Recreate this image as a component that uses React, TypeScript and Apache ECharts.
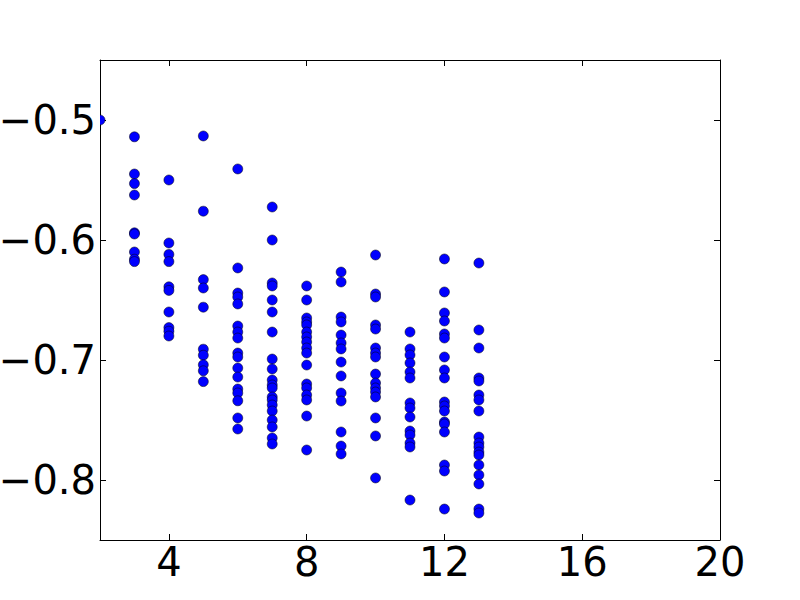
import React, { useEffect, useRef } from "react";
import * as echarts from "echarts";

// Values per x position
const y2 = [-0.5];
const y3 = [-0.514, -0.545, -0.553, -0.5625, -0.594, -0.595, -0.61, -0.616, -0.618];
const y4 = [-0.55, -0.6025, -0.612, -0.618, -0.639, -0.642, -0.66, -0.673, -0.676, -0.68];
const y5 = [-0.5133, -0.576, -0.633, -0.64, -0.656, -0.691, -0.696, -0.704, -0.709, -0.718];
const y6 = [-0.5408, -0.6233, -0.6442, -0.6475, -0.6533, -0.6717, -0.6767, -0.6817, -0.6942, -0.6975, -0.7067, -0.7142, -0.7242, -0.7275, -0.734, -0.7483, -0.7575];
const y7 = [-0.5725, -0.6, -0.6358, -0.6383, -0.65, -0.66, -0.6767, -0.6992, -0.7075, -0.7167, -0.7208, -0.7233, -0.7308, -0.7333, -0.7375, -0.7425, -0.75, -0.7558, -0.765, -0.77];
const y8 = [-0.6383, -0.65, -0.665, -0.6683, -0.6708, -0.6767, -0.6808, -0.685, -0.69, -0.6942, -0.7042, -0.72, -0.7233, -0.7292, -0.7333, -0.7467, -0.775];
const y9 = [-0.6267, -0.635, -0.6642, -0.6683, -0.6792, -0.6858, -0.6908, -0.7017, -0.7133, -0.7275, -0.7342, -0.76, -0.7717, -0.7783];
const y10 = [-0.6125, -0.645, -0.6475, -0.6708, -0.6742, -0.69, -0.6942, -0.6975, -0.7117, -0.7192, -0.7233, -0.7267, -0.7308, -0.7483, -0.7633, -0.7983];
const y11 = [-0.6767, -0.6908, -0.6958, -0.7025, -0.71, -0.715, -0.7358, -0.74, -0.7475, -0.7592, -0.7625, -0.7692, -0.7725, -0.8167];
const y12 = [-0.6158, -0.6433, -0.6608, -0.6675, -0.6783, -0.6817, -0.6975, -0.7083, -0.715, -0.735, -0.7383, -0.7425, -0.7517, -0.7533, -0.76, -0.7875, -0.7925, -0.8242];
const y13 = [-0.6192, -0.675, -0.69, -0.715, -0.7175, -0.7292, -0.7333, -0.7425, -0.7642, -0.7692, -0.7725, -0.7767, -0.7792, -0.7875, -0.7958, -0.8033, -0.8242, -0.8275];

const xPositions = [2, 3, 4, 5, 6, 7, 8, 9, 10, 11, 12, 13];
const columns = [y2, y3, y4, y5, y6, y7, y8, y9, y10, y11, y12, y13];

const xTicks = [4, 8, 12, 16, 20];
const yTicks = [-0.8, -0.7, -0.6, -0.5];

const MARKER = 10;

export default function App() {
  const ref = useRef<HTMLDivElement>(null);
  useEffect(() => {
    if (!ref.current) return;
    const chart = echarts.init(ref.current, null, { renderer: "svg" });
    const data: number[][] = [];
    columns.forEach((col, i) => col.forEach((v) => data.push([xPositions[i], v])));
    const font = "DejaVu Sans";
    const markerStyle = { fill: "#0000ff", stroke: "#000", lineWidth: 0.5 };
    const tickStyle = { show: true, inside: true, length: 6, lineStyle: { color: "#000", width: 1 } };
    const lineStyle = { show: true, lineStyle: { color: "#000", width: 1 } };
    chart.setOption({
      animation: false,
      backgroundColor: "#fff",
      grid: {
        left: 100,
        right: 80,
        top: 60,
        bottom: 60,
        containLabel: false,
        outerBoundsMode: "none",
      },
      xAxis: [
        {
          type: "value",
          min: 2,
          max: 20,
          position: "bottom",
          axisLine: { ...lineStyle, onZero: false },
          axisTick: { ...tickStyle, customValues: xTicks },
          axisLabel: {
            customValues: xTicks,
            fontFamily: font,
            fontSize: 40,
            color: "#000",
            margin: 2,
            hideOverlap: false,
          },
          splitLine: { show: false },
        },
        {
          type: "value",
          min: 2,
          max: 20,
          position: "top",
          axisLine: { ...lineStyle, onZero: false },
          axisTick: { ...tickStyle, customValues: xTicks },
          axisLabel: { show: false },
          splitLine: { show: false },
        },
      ],
      yAxis: [
        {
          type: "value",
          min: -0.85,
          max: -0.45,
          position: "left",
          axisLine: { ...lineStyle, onZero: false },
          axisTick: { ...tickStyle, customValues: yTicks },
          axisLabel: {
            customValues: yTicks,
            fontFamily: font,
            fontSize: 40,
            color: "#000",
            margin: 4,
            formatter: (v: number) => v.toFixed(1).replace("-", "\u2212"),
          },
          splitLine: { show: false },
        },
        {
          type: "value",
          min: -0.85,
          max: -0.45,
          position: "right",
          axisLine: { ...lineStyle, onZero: false },
          axisTick: { ...tickStyle, customValues: yTicks },
          axisLabel: { show: false },
          splitLine: { show: false },
        },
      ],
      series: [
        {
          type: "custom",
          xAxisIndex: 0,
          yAxisIndex: 0,
          clip: true,
          data,
          encode: { x: 0, y: 1 },
          renderItem: (params: any, api: any) => {
            const p = api.coord([api.value(0), api.value(1)]);
            return {
              type: "circle",
              shape: { cx: p[0], cy: p[1], r: MARKER / 2 },
              style: markerStyle,
            };
          },
        },
      ],
    });
    return () => chart.dispose();
  }, []);
  return (
    <div
      ref={ref}
      style={{ position: "fixed", left: 0, top: 0, width: 800, height: 600 }}
    />
  );
}
